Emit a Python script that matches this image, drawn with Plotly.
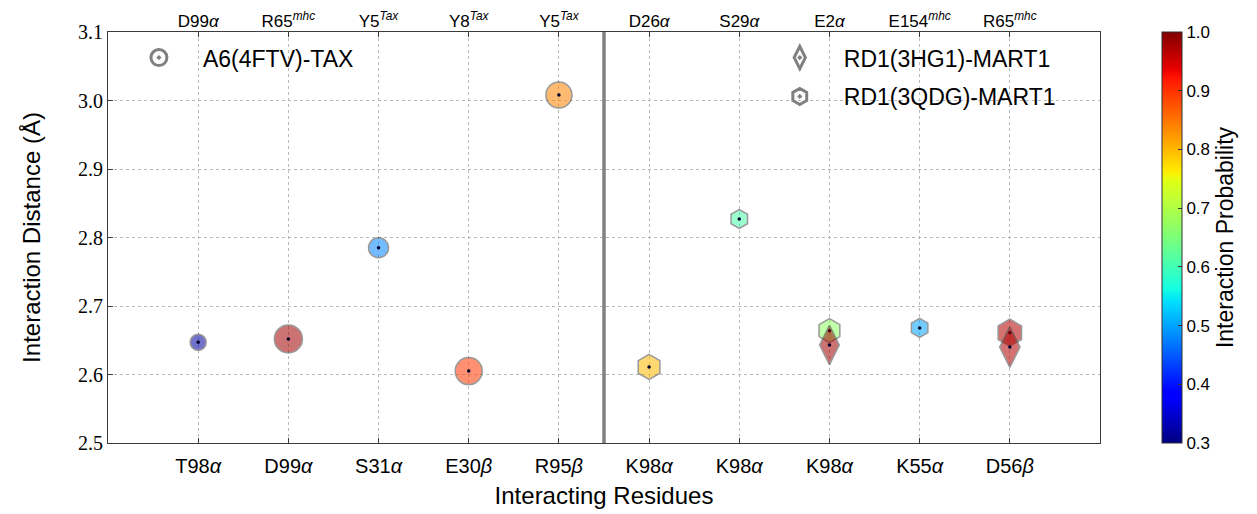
import plotly.graph_objects as go

# ---------------- data ----------------
bottom_labels = ["T98<i>α</i>", "D99<i>α</i>", "S31<i>α</i>", "E30<i>β</i>", "R95<i>β</i>",
                 "K98<i>α</i>", "K98<i>α</i>", "K98<i>α</i>", "K55<i>α</i>", "D56<i>β</i>"]
top_labels = ["D99<i>α</i>", "R65<sup><i>mhc</i></sup>", "Y5<sup><i>Tax</i></sup>",
              "Y8<sup><i>Tax</i></sup>", "Y5<sup><i>Tax</i></sup>", "D26<i>α</i>", "S29<i>α</i>",
              "E2<i>α</i>", "E154<sup><i>mhc</i></sup>", "R65<sup><i>mhc</i></sup>"]
positions = [1, 2, 3, 4, 5, 6, 7, 8, 9, 10]

# A6(4FTV)-TAX (circles)
a6_x = [1, 2, 3, 4, 5]
a6_dist = [2.647, 2.652, 2.785, 2.605, 3.008]
a6_prob = [0.32, 0.98, 0.48, 0.895, 0.84]
a6_size = [16, 28, 20, 27, 26]

# RD1(3QDG)-MART1 (hexagons)
qdg_x = [6, 7, 8, 9, 10]
qdg_dist = [2.611, 2.827, 2.664, 2.668, 2.661]
qdg_prob = [0.80, 0.61, 0.67, 0.50, 0.97]
qdg_size = [25, 19, 24, 19, 27]

# RD1(3HG1)-MART1 (diamonds)
hg1_x = [8, 10]
hg1_dist = [2.643, 2.640]
hg1_prob = [0.98, 0.97]
hg1_size = [28, 29]

split_at = 5.5
cmin, cmax = 0.3, 1.0

jet = [[0.0, "rgb(0,0,128)"], [0.11, "rgb(0,0,255)"], [0.125, "rgb(0,0,255)"],
       [0.34, "rgb(0,219,255)"], [0.35, "rgb(0,229,246)"], [0.375, "rgb(20,255,226)"],
       [0.5, "rgb(124,255,121)"], [0.64, "rgb(226,255,20)"], [0.66, "rgb(255,236,0)"],
       [0.89, "rgb(255,18,0)"], [0.91, "rgb(232,0,0)"], [1.0, "rgb(128,0,0)"]]

SANS = "Liberation Sans, Arial, sans-serif"
SERIF = "Liberation Serif, DejaVu Serif, serif"
edge = dict(color="rgb(70,70,70)", width=1.5)
dot_color = "#00002a"

fig = go.Figure()

def add_series(xs, ys, probs, sizes, symbol, show_cbar=False):
    marker = dict(symbol=symbol, size=sizes, color=probs, colorscale=jet, cmin=cmin, cmax=cmax,
                  opacity=0.55, line=edge)
    if show_cbar:
        marker.update(showscale=True, colorbar=dict(
            x=1.0625, xanchor="left", xref="paper", y=0.5, yanchor="middle", len=1.0, lenmode="fraction",
            xpad=0, ypad=0,
            thickness=20, outlinecolor="#333", outlinewidth=1, tickvals=[0.3, 0.4, 0.5, 0.6, 0.7, 0.8, 0.9, 1.0],
            tickformat=".1f", ticks="inside", ticklen=4, tickcolor="#333",
            tickfont=dict(family=SANS, size=17, color="black"),
            title=dict(text="Interaction Probability", side="right",
                       font=dict(family=SANS, size=23, color="black"))))
    fig.add_trace(go.Scatter(x=xs, y=ys, mode="markers", marker=marker, showlegend=False, hoverinfo="skip"))
    fig.add_trace(go.Scatter(x=xs, y=ys, mode="markers", showlegend=False, hoverinfo="skip",
                             marker=dict(symbol="circle", size=3.5, color=dot_color)))

add_series(a6_x, a6_dist, a6_prob, a6_size, "circle", show_cbar=True)
add_series(qdg_x, qdg_dist, qdg_prob, qdg_size, "hexagon")
add_series(hg1_x, hg1_dist, hg1_prob, hg1_size, "diamond-tall")

# legend entries
leg_marker = dict(color="rgb(128,128,128)", size=16, line=dict(width=3, color="rgb(128,128,128)"))
fig.add_trace(go.Scatter(x=[None], y=[None], mode="markers", name="A6(4FTV)-TAX", legend="legend",
                         marker=dict(symbol="circle-open-dot", **leg_marker)))
fig.add_trace(go.Scatter(x=[None], y=[None], mode="markers", name="RD1(3HG1)-MART1", legend="legend2",
                         legendgroup="a", marker=dict(symbol="diamond-tall-open-dot", **leg_marker)))
fig.add_trace(go.Scatter(x=[None], y=[None], mode="markers", name="RD1(3QDG)-MART1", legend="legend2",
                         legendgroup="b", marker=dict(symbol="hexagon-open-dot", **leg_marker)))

fig.add_shape(type="line", x0=split_at, x1=split_at, y0=0, y1=1, xref="x", yref="paper",
              line=dict(color="rgb(128,128,128)", width=3.5), layer="above")

axis_line = dict(showline=True, linecolor="rgb(60,60,60)", linewidth=1)
grid = dict(showgrid=True, gridcolor="rgb(185,185,185)", griddash="dot", gridwidth=1)
fig.update_layout(
    width=1249, height=506,
    margin=dict(l=100, r=157, t=24, b=71, autoexpand=False),
    paper_bgcolor="white", plot_bgcolor="white",
    font=dict(family=SANS, color="black"),
    xaxis=dict(range=[0, 11], tickvals=positions, ticktext=bottom_labels, mirror=False, automargin=False,
               ticks="inside", ticklen=5, tickcolor="rgb(60,60,60)", zeroline=False, ticklabelstandoff=5,
               tickfont=dict(family=SANS, size=20),
               title=dict(text="Interacting Residues", font=dict(family=SANS, size=24), standoff=11),
               **grid, **axis_line),
    xaxis2=dict(range=[0, 11], tickvals=positions, ticktext=top_labels, overlaying="x", side="top",
                showgrid=False, ticks="inside", ticklen=5, tickcolor="rgb(60,60,60)", zeroline=False,
                ticklabelstandoff=-3,
                automargin=False, tickfont=dict(family=SANS, size=17), **axis_line),
    yaxis=dict(range=[2.5, 3.1], dtick=0.1, tickformat=".1f", mirror=True, automargin=False,
               ticks="inside", ticklen=5, tickcolor="rgb(60,60,60)", zeroline=False,
               tickfont=dict(family=SERIF, size=20),
               title=dict(text="Interaction Distance (Å)", font=dict(family=SANS, size=24), standoff=30),
               **grid, **axis_line),
    legend=dict(x=0.007, y=0.99, xanchor="left", yanchor="top", bgcolor="rgba(0,0,0,0)",
                font=dict(family=SANS, size=23), itemsizing="trace", itemwidth=78),
    legend2=dict(x=0.653, y=0.99, xanchor="left", yanchor="top", bgcolor="rgba(0,0,0,0)",
                 font=dict(family=SANS, size=23), itemsizing="trace", tracegroupgap=6, itemwidth=78,
                 traceorder="grouped"),
)
# dummy trace to enable the top axis
fig.add_trace(go.Scatter(x=[None], y=[None], xaxis="x2", showlegend=False, hoverinfo="skip"))

fig.write_html("out.html")
